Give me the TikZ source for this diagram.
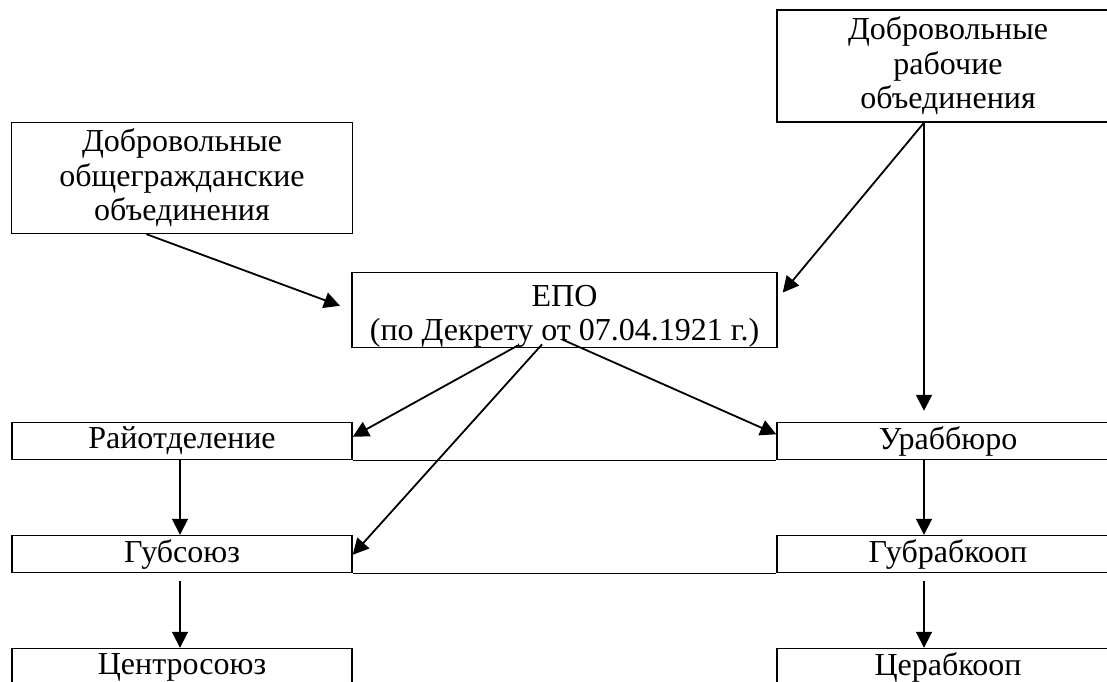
\documentclass[tikz,border=0pt]{standalone}
\usepackage{fontspec}
\setmainfont{Liberation Serif}
\usetikzlibrary{arrows.meta}

\begin{document}
\begin{tikzpicture}[x=1pt, y=1pt, node distance=766pt,
  box/.style={shape=rectangle, draw, line width=1.4pt, inner sep=0pt, align=center,
    font=\fontsize{32}{34.5}\selectfont, minimum width=340pt, minimum height=37pt},
  arr/.style={-{Triangle[length=16pt, width=16pt]}, line width=1.8pt}]
\useasboundingbox (0,0) rectangle (1107,681);
\coordinate (lcol) at (180,0);
\coordinate (rcol) at (924,0);

\node [box] (rajon) at (182,240) {Райотделение};
\node [box, below of=rajon, node distance=113pt] (gubs) {Губсоюз};
\node [box, below of=gubs, node distance=113pt] (centr) {Центросоюз};
\node [box, right of=rajon, minimum width=342pt] (urab) {Ураббюро};
\node [box, right of=gubs, minimum width=342pt] (gubr) {Губрабкооп};
\node [box, right of=centr, minimum width=342pt] (cerab) {Церабкооп};
\node [box, above of=rajon, node distance=263pt, minimum width=341pt, minimum height=111pt] (doo) {Добровольные\\общегражданские\\объединения};
\node [box, above of=urab, node distance=375pt, minimum width=342pt, minimum height=112pt] (dro) {Добровольные\\рабочие\\объединения};
\node [box, minimum width=425pt, minimum height=74pt] (epo) at (564.5,371) {\rule{0pt}{34pt}ЕПО\\(по Декрету от 07.04.1921 г.)};

\draw[line width=1.4pt] (rajon.south east) -- (urab.south west);
\draw[line width=1.4pt] (gubs.south east) -- (gubr.south west);

\draw[arr, shorten >=12pt] ([xshift=-35.5pt]doo.south) -- (epo.west);
\draw[arr] (dro.south -| rcol) -- ([xshift=5pt, yshift=-21pt]epo.north east);
\draw[arr, shorten >=11pt] (dro.south -| rcol) -- (urab.north -| rcol);
\draw[arr] ([xshift=-46.5pt, yshift=3pt]epo.south) -- ([yshift=-15pt]rajon.north east);
\draw[arr] ([xshift=-22.5pt, yshift=4pt]epo.south) -- ([yshift=-20pt]gubs.north east);
\draw[arr] ([xshift=-2.5pt, yshift=9pt]epo.south) -- ([yshift=-12.5pt]urab.north west);

\draw[arr] (rajon.south -| lcol) -- (gubs.north -| lcol);
\draw[arr, shorten <=8pt] (gubs.south -| lcol) -- (centr.north -| lcol);
\draw[arr] (urab.south -| rcol) -- (gubr.north -| rcol);
\draw[arr, shorten <=8pt] (gubr.south -| rcol) -- (cerab.north -| rcol);
\end{tikzpicture}
\end{document}
